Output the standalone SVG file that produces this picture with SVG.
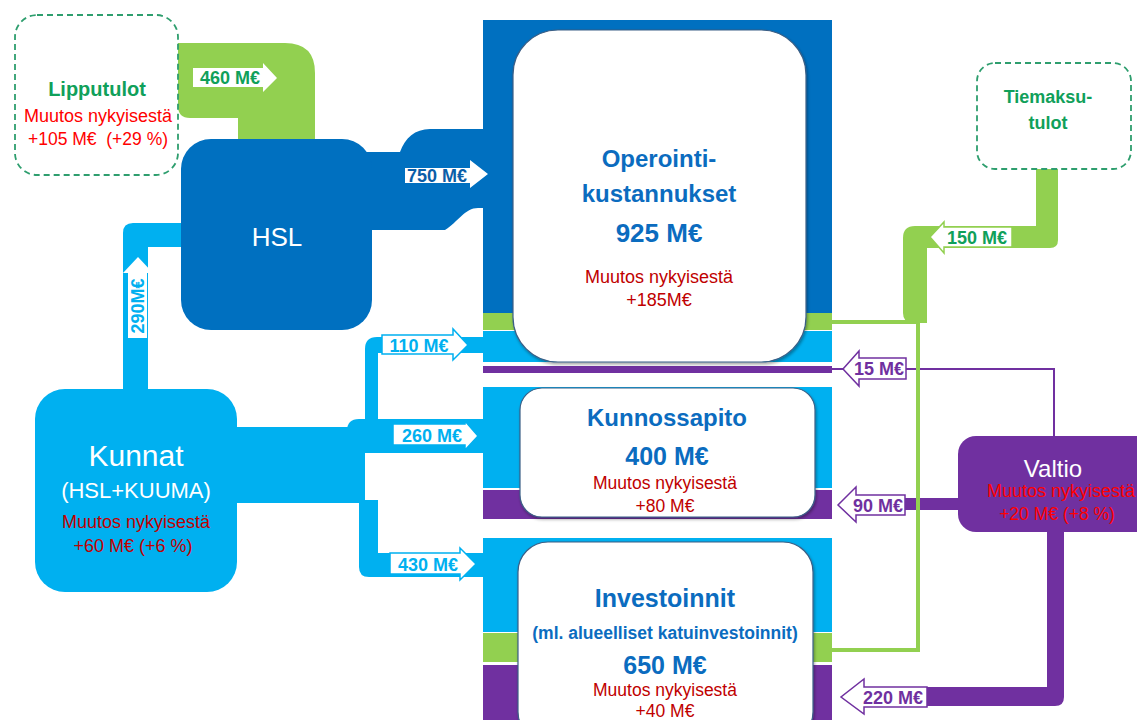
<svg xmlns="http://www.w3.org/2000/svg" width="1137" height="720" viewBox="0 0 1137 720">
<defs>
<style>
.t{font-family:"Liberation Sans",Arial,sans-serif;text-anchor:middle}
.b{font-weight:bold}
.blue{fill:#0B6CBF}
.dred{fill:#C00000}
.red{fill:#FF0000}
.grn{fill:#10A05A}
.wh{fill:#FFFFFF}
.lb{fill:#00B0F0}
.pu{fill:#7030A0}
.db{fill:#0070C0}
.gb{fill:#92D050}
.dash{fill:#FFFFFF;stroke:#2E9E6E;stroke-width:1.8;stroke-dasharray:6 4}
.card{fill:#FFFFFF;stroke:#3B5F86;stroke-width:1.2}
.lbl{font-family:"Liberation Sans",Arial,sans-serif;font-weight:bold;font-size:18px;text-anchor:middle}
.arW{fill:#FFFFFF}
.arLB{fill:#FFFFFF;stroke:#00B0F0;stroke-width:1.5}
.arG{fill:#FFFFFF;stroke:#92D050;stroke-width:1.5}
.arP{fill:#FFFFFF;stroke:#7030A0;stroke-width:1.5}
</style>
<filter id="sh" x="-5%" y="-5%" width="110%" height="110%">
<feDropShadow dx="1" dy="2" stdDeviation="1.5" flood-color="#000" flood-opacity="0.35"/>
</filter>
</defs>
<rect width="1137" height="720" fill="#FFFFFF"/>

<g id="connectors">
<path class="gb" d="M178 43 L285 43 Q315 43 315 73 L315 141 L238 141 L238 118 L190 118 Q178 118 178 106 Z"/>
<path class="db" d="M365 152 L400 152 C405 138 415 129 430 129 L490 129 L490 208 L478 208 C465 208 458 222 445 230 L365 230 Z"/>
<path class="lb" d="M123 389 L123 233 Q123 223 133 223 L185 223 L185 247 L148 247 L148 389 Z"/>
<rect class="lb" x="230" y="427" width="135" height="76"/>
<path class="lb" d="M365 430 L365 349 Q365 337 377 337 L485 337 L485 353 L378 353 L378 430 Z"/>
<path class="lb" d="M347 453 L347 431 Q347 419 359 419 L485 419 L485 453 Z"/>
<path class="lb" d="M359 500 L378 500 L378 553 L485 553 L485 577 L369 577 Q359 577 359 567 Z"/>
<path class="gb" d="M1036 169 L1058 169 L1058 240 Q1058 248 1050 248 L927 248 L927 323 L913 323 Q903 323 903 313 L903 238 Q903 226 915 226 L1036 226 Z"/>
<path d="M832 369 L1054 369 L1054 437" fill="none" stroke="#7030A0" stroke-width="2"/>
<rect class="pu" x="900" y="498" width="62" height="12"/>
<path class="pu" d="M920 687 L1047 687 L1047 528 L1064 528 L1064 697 Q1064 706 1055 706 L920 706 Z"/>
<path d="M832 322 L918 322 L918 650 L832 650" fill="none" stroke="#92D050" stroke-width="4"/>
</g>

<g id="node-lipputulot">
<rect class="dash" x="15" y="15" width="163" height="160" rx="22" style="fill:none"/>
<text class="t b grn" x="97" y="96" font-size="20">Lipputulot</text>
<text class="t red" x="98" y="122" font-size="18">Muutos nykyisestä</text>
<text class="t red" x="98" y="145" font-size="17.5" style="white-space:pre">+105 M€  (+29 %)</text>
</g>

<g id="node-tiemaksutulot">
<rect class="dash" x="977" y="63" width="154" height="106" rx="18"/>
<text class="t b grn" x="1048" y="103" font-size="18">Tiemaksu-</text>
<text class="t b grn" x="1048" y="129" font-size="18">tulot</text>
</g>

<g id="node-hsl">
<rect class="db" x="181" y="139" width="191" height="191" rx="30"/>
<text class="t wh" x="277" y="246" font-size="26">HSL</text>
</g>

<g id="node-kunnat">
<rect class="lb" x="35" y="389" width="202" height="203" rx="30"/>
<text class="t wh" x="136" y="466" font-size="30">Kunnat</text>
<text class="t wh" x="136" y="498" font-size="22">(HSL+KUUMA)</text>
<text class="t dred" x="136" y="528" font-size="18">Muutos nykyisestä</text>
<text class="t dred" x="133" y="552" font-size="18">+60 M€ (+6 %)</text>
</g>

<g id="node-valtio">
<rect class="pu" x="958" y="436" width="200" height="96" rx="18"/>
<text class="t wh" x="1053" y="477" font-size="24">Valtio</text>
<text class="t red" x="1061" y="497" font-size="18">Muutos nykyisestä</text>
<text class="t red" x="1057" y="520" font-size="17.5">+20 M€ (+8 %)</text>
</g>

<g id="node-operointi">
<rect class="db" x="483" y="20" width="349" height="293"/>
<rect class="gb" x="483" y="313" width="349" height="17"/>
<rect class="lb" x="483" y="331" width="349" height="31"/>
<rect class="pu" x="483" y="366" width="349" height="7"/>
<rect class="card" x="513" y="30" width="293" height="332" rx="45" filter="url(#sh)"/>
<text class="t b blue" x="659" y="167" font-size="24">Operointi-</text>
<text class="t b blue" x="659" y="202" font-size="24">kustannukset</text>
<text class="t b blue" x="659" y="242" font-size="26">925 M€</text>
<text class="t dred" x="659" y="283" font-size="18">Muutos nykyisestä</text>
<text class="t dred" x="659" y="306" font-size="18">+185M€</text>
</g>

<g id="node-kunnossapito">
<rect class="lb" x="483" y="387" width="349" height="101"/>
<rect class="pu" x="483" y="490" width="349" height="29"/>
<rect class="card" x="520" y="388" width="295" height="129" rx="22" filter="url(#sh)"/>
<text class="t b blue" x="667" y="426" font-size="24">Kunnossapito</text>
<text class="t b blue" x="667" y="465" font-size="25">400 M€</text>
<text class="t dred" x="665" y="489" font-size="17.5">Muutos nykyisestä</text>
<text class="t dred" x="665" y="512" font-size="17.5">+80 M€</text>
</g>

<g id="node-investoinnit">
<rect class="lb" x="483" y="538" width="349" height="94"/>
<rect class="gb" x="483" y="633" width="349" height="29"/>
<rect class="pu" x="483" y="665" width="349" height="55"/>
<rect class="card" x="518" y="542" width="295" height="200" rx="30" filter="url(#sh)"/>
<text class="t b blue" x="665" y="607" font-size="25">Investoinnit</text>
<text class="t b blue" x="665" y="639" font-size="17.5">(ml. alueelliset katuinvestoinnit)</text>
<text class="t b blue" x="665" y="674" font-size="25">650 M€</text>
<text class="t dred" x="665" y="696" font-size="17.5">Muutos nykyisestä</text>
<text class="t dred" x="665" y="717" font-size="17.5">+40 M€</text>
</g>

<g id="flow-labels">
<polygon class="arW" points="193,68 263,68 263,63 277,78 263,92 263,87 193,87"/>
<text class="lbl grn" x="230" y="84">460 M€</text>
<polygon class="arW" points="405,168 470,168 470,160 488,174 470,188 470,183 405,183"/>
<text class="lbl" x="437" y="182" fill="#0B5EA8">750 M€</text>
<polygon class="arW" points="128,338 128,273 123,273 138,257 153,273 147,273 147,338"/>
<text class="lbl lb" transform="translate(144,306) rotate(-90)" x="0" y="0">290M€</text>
<polygon class="arLB" points="382,335 453,335 453,329 468,345 453,360 453,354 382,354"/>
<text class="lbl lb" x="419" y="352">110 M€</text>
<polygon class="arLB" points="393,424 465,424 465,421 478,436 465,450 465,445 393,445"/>
<text class="lbl lb" x="432" y="442">260 M€</text>
<polygon class="arLB" points="390,553 460,553 460,548 476,564 460,580 460,574 390,574"/>
<text class="lbl lb" x="428" y="571">430 M€</text>
<polygon class="arG" points="1012,227 944,227 944,222 930,237 944,253 944,247 1012,247"/>
<text class="lbl grn" x="977" y="244">150 M€</text>
<polygon class="arP" points="906,358 859,358 859,351 843,369 859,386 859,379 906,379"/>
<text class="lbl pu" x="879" y="375">15 M€</text>
<polygon class="arP" points="905,495 856,495 856,487 838,505 856,522 856,515 905,515"/>
<text class="lbl pu" x="878" y="512">90 M€</text>
<polygon class="arP" points="927,687 864,687 864,679 841,697 864,714 864,707 927,707"/>
<text class="lbl pu" x="893" y="704">220 M€</text>
</g>
</svg>
